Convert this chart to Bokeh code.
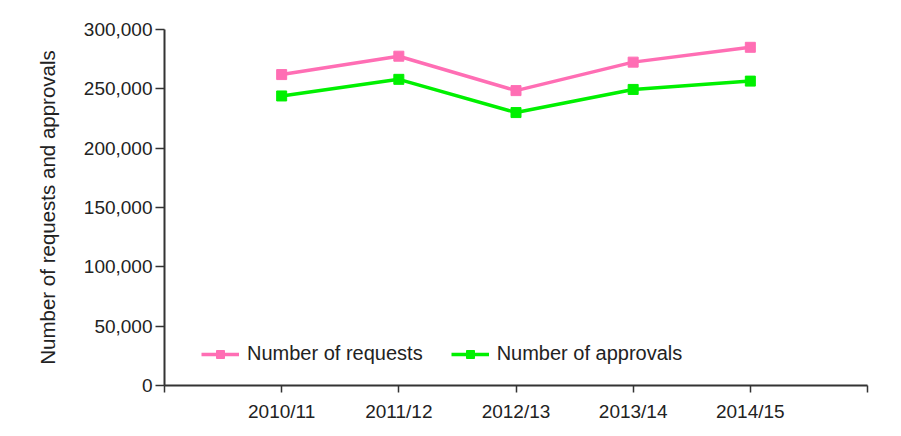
from bokeh.plotting import figure
from bokeh.models import Range1d, FixedTicker, NumeralTickFormatter, Legend, LegendItem
from bokeh.embed import file_html
from bokeh.resources import INLINE

categories = ["2010/11", "2011/12", "2012/13", "2013/14", "2014/15"]
requests = [262000, 277500, 248500, 272500, 285000]
approvals = [244000, 258000, 230000, 249500, 256500]
y_ticks = [0, 50000, 100000, 150000, 200000, 250000, 300000]

FONT = "Liberation Sans"
TXT = "#222222"
AX = "#333333"

xs = list(range(1, len(categories) + 1))

p = figure(width=901, height=436, output_backend="svg", toolbar_location=None,
           x_range=Range1d(0, len(categories) + 1), y_range=Range1d(0, 300000),
           min_border_left=164, min_border_right=34, min_border_top=29, min_border_bottom=51)
p.outline_line_color = None
p.xgrid.visible = False
p.ygrid.visible = False
p.background_fill_color = "white"
p.border_fill_color = "white"

pink = "#ff6eb4"
green = "#00f000"

r1 = p.line(xs, requests, line_color=pink, line_width=3.5)
m1 = p.scatter(xs, requests, marker="square", size=10, fill_color=pink, line_color=pink)
r2 = p.line(xs, approvals, line_color=green, line_width=3.5)
m2 = p.scatter(xs, approvals, marker="square", size=10, fill_color=green, line_color=green)

# x axis
xa = p.xaxis[0]
xa.ticker = FixedTicker(ticks=list(range(0, len(categories) + 2)))
overrides = {0: "", len(categories) + 1: ""}
for i, c in enumerate(categories):
    overrides[i + 1] = c
xa.major_label_overrides = overrides
xa.major_tick_out = 7
xa.major_tick_in = 0
xa.minor_tick_line_color = None
xa.axis_line_color = AX
xa.axis_line_width = 2
xa.major_tick_line_color = AX
xa.major_tick_line_width = 1.5
xa.major_label_text_font = FONT
xa.major_label_text_font_size = "19px"
xa.major_label_text_color = TXT
xa.major_label_standoff = 8

# y axis
ya = p.yaxis[0]
ya.ticker = FixedTicker(ticks=y_ticks)
ya.formatter = NumeralTickFormatter(format="0,0")
ya.major_tick_out = 9
ya.major_tick_in = 0
ya.minor_tick_line_color = None
ya.axis_line_color = AX
ya.axis_line_width = 2
ya.major_tick_line_color = AX
ya.major_tick_line_width = 1.5
ya.major_label_text_font = FONT
ya.major_label_text_font_size = "19px"
ya.major_label_text_color = TXT
ya.major_label_standoff = 3
ya.axis_label = "Number of requests and approvals"
ya.axis_label_text_font = FONT
ya.axis_label_text_font_size = "20.5px"
ya.axis_label_text_font_style = "normal"
ya.axis_label_text_color = TXT
ya.axis_label_standoff = 22

legend = Legend(items=[
    LegendItem(label="Number of requests", renderers=[r1, m1]),
    LegendItem(label="Number of approvals", renderers=[r2, m2]),
], orientation="horizontal", location=(37, 20))
legend.padding = 0
legend.margin = 0
legend.spacing = 28
legend.border_line_color = None
legend.background_fill_alpha = 0
legend.glyph_width = 38
legend.label_standoff = 8
legend.label_text_font = FONT
legend.label_text_font_size = "20px"
legend.label_text_color = TXT
p.add_layout(legend, "center")

open("out.html", "w").write(file_html(p, INLINE))
